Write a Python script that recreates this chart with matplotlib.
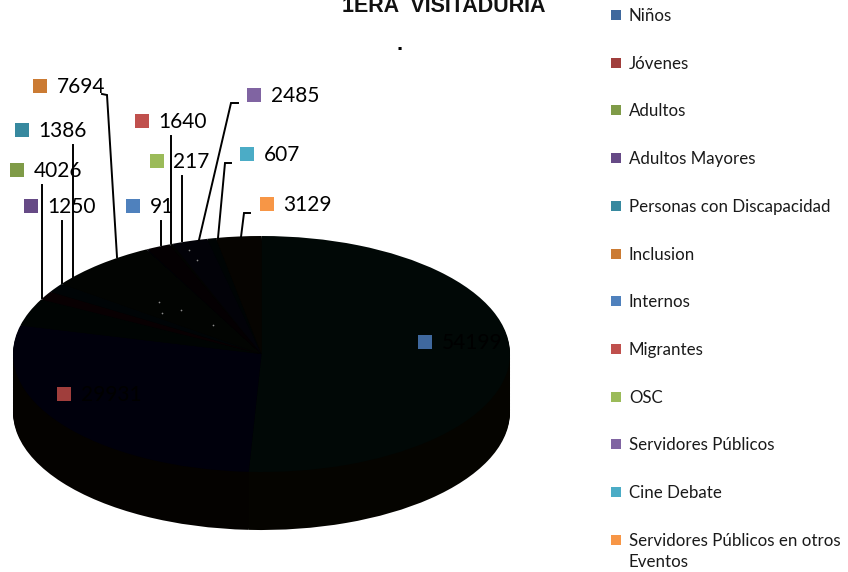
import matplotlib
matplotlib.use('Agg')
import matplotlib.pyplot as plt

categories = ['Niños','Jóvenes','Adultos','Adultos Mayores','Personas con Discapacidad','Inclusion',
              'Internos','Migrantes','OSC','Servidores Públicos','Cine Debate','Servidores Públicos en otros\nEventos']
values = [54199,29931,4026,1250,1386,7694,91,1640,217,2485,607,3129]
key_colors = ['#3F689D','#A03E3C','#7F9B48','#664A86','#37899F','#CB7B33',
              '#4F81BD','#C0504D','#9BBB59','#8064A2','#4BACC6','#F79646']
top_colors = ['#010806','#00000C','#000403','#080002','#000406','#020402',
              '#000008','#040002','#020302','#020208','#000404','#060401']
side_colors = ['#050400','#040200','#000404','#040004','#000000','#040200',
               '#000003','#050000','#030400','#030208','#000405','#060300']

W, H = 848, 572
fig = plt.figure(figsize=(W/100, H/100), dpi=100)

# pie axes, stretched so the circle turns into the flat ellipse
left, right, top, bottom = 13, 510, 236, 472
ax = fig.add_axes([left/W, 1-bottom/H, (right-left)/W, (bottom-top)/H])
depth = 58/((bottom-top)/2)
steps = 40
for i in range(steps, 0, -1):
    wedges, _ = ax.pie(values, colors=side_colors, startangle=90, counterclock=False,
                       radius=1, center=(0, -depth*i/steps), wedgeprops={'linewidth':0})
    for w in wedges:
        w.set_clip_on(False)
wedges, _ = ax.pie(values, colors=top_colors, startangle=90, counterclock=False,
                   radius=1, wedgeprops={'linewidth':0})
for w in wedges:
    w.set_clip_on(False)
ax.set_aspect('auto')
ax.set_xlim(-1, 1)
ax.set_ylim(-1, 1)
ax.axis('off')

# overlay in pixel coordinates for labels and leaders
ov = fig.add_axes([0, 0, 1, 1], facecolor='none')
ov.set_xlim(0, W)
ov.set_ylim(H, 0)
ov.axis('off')

ov.text(444, 12, '1ERA  VISITADURIA', family='Liberation Sans', fontweight='bold',
        fontsize=15.5, ha='center', va='baseline', color='#111111', clip_on=False)
ov.text(400, 50, '.', family='Liberation Sans', fontweight='bold', fontsize=15.5, ha='center', va='baseline')

label_pos = [(425,342),(64,394),(17,170),(31,206),(22,130),(40,86),
             (133,206),(142,121),(157,161),(254,95),(247,154),(267,204)]
leaders = [None, None,
           [(42,185),(42,298)],
           [(62,221),(62,283)],
           [(73,145),(73,277)],
           [(102,94),(107,95),(117,257)],
           [(161,221),(161,245)],
           [(171,136),(171,243)],
           [(182,176),(182,241)],
           [(238,103),(231,103),(199,240)],
           [(231,163),(225,163),(218,238)],
           [(250,213),(244,213),(241,237)]]

for line in leaders:
    if line:
        ov.plot([p[0] for p in line], [p[1] for p in line], color='black', lw=1.4, solid_joinstyle='miter')

for val, (x, y), c in zip(values, label_pos, key_colors):
    ov.scatter(x, y, marker='s', s=100, color=c, linewidths=0, zorder=3)
    ov.text(x+16.5, y+1, str(val), family='Lato', fontsize=15, ha='left', va='center', color='black', zorder=4)

# small light specks on the pie top
speck_x = [159,181,162,213,189,197]
speck_y = [302,310,313,325,250,260]
ov.scatter(speck_x, speck_y, s=1.5, color='#8a8a8a', linewidths=0, zorder=2)

# legend
legend_y = [15,63,110,158,206,254,301,349,397,444,492,540]
for name, y, c in zip(categories, legend_y, key_colors):
    ov.scatter(616, y, marker='s', s=62, color=c, linewidths=0)
    ov.text(629, y+1 if '\n' not in name else y+11.5, name, family='Lato', fontsize=12.2,
            ha='left', va='center', color='#1a1a1a', linespacing=1.45)

fig.savefig('out.png', dpi=100)
